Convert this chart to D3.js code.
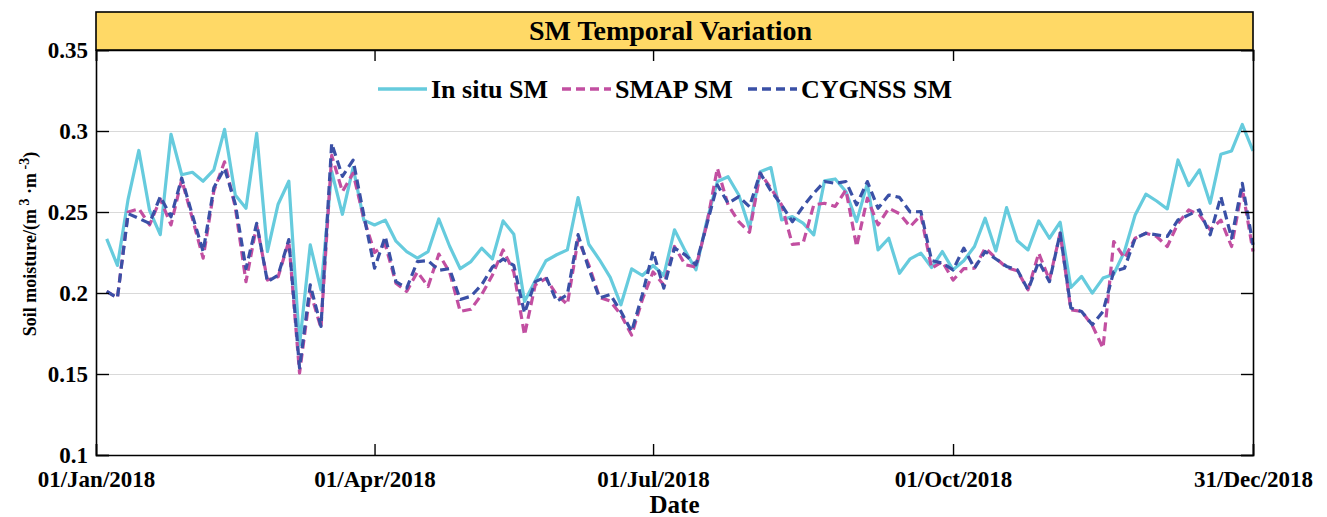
<!DOCTYPE html>
<html>
<head>
<meta charset="utf-8">
<script src="https://cdn.jsdelivr.net/npm/d3@7"></script>
<style>
  html, body { margin: 0; padding: 0; background: #fff; }
  svg { display: block; font-family: "Liberation Serif", "Times New Roman", serif; font-weight: bold; }
</style>
</head>
<body>
<svg id="chart" width="1327" height="517"></svg>
<script>
// ---- data (one sample per ~3.4 days, index 1..108) ----
const insitu = [0.2334,0.217,0.258,0.288,0.251,0.236,0.298,0.273,0.2745,0.269,0.276,0.301,0.2605,0.2523,0.2986,0.2256,0.2548,0.269,
  0.168,0.2297,0.202,0.275,0.2486,0.2774,0.245,0.242,0.245,0.232,0.2256,0.2215,0.2256,0.2457,0.229,0.215,0.2194,0.2277,
  0.221,0.2445,0.2363,0.1948,0.2075,0.2199,0.2236,0.2266,0.2589,0.2301,0.2205,0.2096,0.1927,0.2149,0.2108,0.217,0.2108,0.239,
  0.226,0.2143,0.2441,0.2688,0.2718,0.2605,0.24,0.2749,0.2774,0.2451,0.2472,0.2431,0.2359,0.2692,0.2704,0.2626,0.2441,0.2677,
  0.2266,0.2338,0.2122,0.2211,0.2246,0.2157,0.2256,0.2143,0.2199,0.2287,0.2462,0.226,0.2527,0.2322,0.2266,0.2445,0.2338,0.2437,
  0.2034,0.2102,0.1999,0.2092,0.2116,0.2256,0.2482,0.261,0.2568,0.2519,0.2821,0.2663,0.276,0.2554,0.2856,0.2877,0.304,0.2877];
const smap = [0.201,0.197,0.25,0.252,0.242,0.258,0.242,0.27,0.246,0.2215,0.263,0.281,0.253,0.207,0.242,0.208,0.21,0.232,
  0.1506,0.201,0.1783,0.285,0.2626,0.274,0.246,0.225,0.23,0.206,0.201,0.213,0.204,0.224,0.213,0.1886,0.19,0.199,
  0.211,0.2266,0.213,0.174,0.205,0.209,0.199,0.193,0.233,0.2174,0.1973,0.195,0.1866,0.174,0.196,0.213,0.205,0.2287,
  0.2174,0.216,0.242,0.277,0.2544,0.244,0.2375,0.274,0.2647,0.2544,0.23,0.2307,0.2544,0.2554,0.2534,0.2636,0.2287,0.2585,
  0.242,0.2523,0.249,0.241,0.248,0.2153,0.2194,0.208,0.215,0.2153,0.2277,0.2215,0.2157,0.2137,0.202,0.2246,0.208,0.237,
  0.1896,0.1886,0.18,0.166,0.2318,0.2215,0.2338,0.2369,0.2349,0.2287,0.243,0.2513,0.2482,0.239,0.245,0.2287,0.2646,0.2256];
const cygnss = [0.201,0.197,0.249,0.246,0.243,0.2595,0.247,0.271,0.248,0.2256,0.265,0.277,0.255,0.215,0.243,0.207,0.211,0.233,
  0.1537,0.205,0.1794,0.2924,0.272,0.282,0.248,0.2153,0.2349,0.207,0.203,0.2194,0.22,0.214,0.215,0.196,0.198,0.205,
  0.216,0.221,0.217,0.1876,0.207,0.21,0.1948,0.199,0.236,0.215,0.197,0.199,0.1886,0.1763,0.199,0.2256,0.203,0.2277,
  0.2236,0.2174,0.242,0.2667,0.2554,0.2595,0.2533,0.274,0.263,0.2544,0.244,0.2533,0.2616,0.2688,0.2677,0.2688,0.2544,0.2688,
  0.2523,0.2605,0.259,0.25,0.2503,0.22,0.2184,0.2143,0.2277,0.2153,0.2256,0.221,0.2164,0.2143,0.202,0.2194,0.207,0.237,
  0.1907,0.1886,0.1804,0.1886,0.2133,0.2153,0.2338,0.2369,0.2359,0.2349,0.2451,0.2482,0.2513,0.2359,0.2595,0.2338,0.2677,0.2297];
const seriesNames = ["In situ SM", "SMAP SM", "CYGNSS SM"];
const xTickIdx = [0, 26, 52, 80, 108];
const xTickLabels = ["01/Jan/2018", "01/Apr/2018", "01/Jul/2018", "01/Oct/2018", "31/Dec/2018"];
const yTicks = [0.1, 0.15, 0.2, 0.25, 0.3, 0.35];
const yTickLabels = ["0.1", "0.15", "0.2", "0.25", "0.3", "0.35"];

// ---- layout ----
const L = 96, R = 1253, T = 50, B = 455, titleTop = 12;
const W = R - L, H = B - T;
const colors = ["#66CBDD", "#C24FA1", "#3A50A6"];

const svg = d3.select("#chart");
const g = svg.append("g").attr("transform", `translate(${L},${T})`);

const x = d3.scaleLinear().domain([0, 108]).range([0, W]);
const y = d3.scaleLinear().domain([0.1, 0.35]).range([H, 0]);

// gridlines
g.append("g").attr("class", "grid")
  .call(d3.axisLeft(y).tickValues(yTicks).tickSize(-W).tickFormat(""))
  .call(s => s.select(".domain").remove())
  .call(s => s.selectAll("line").attr("stroke", "#d9d9d9").attr("stroke-width", 1.2));

// lines
const line = d3.line().x((d, i) => x(i + 1)).y(d => y(d));
const data = [insitu, smap, cygnss];
data.forEach((arr, k) => {
  g.append("path").datum(arr)
    .attr("fill", "none")
    .attr("stroke", colors[k])
    .attr("stroke-width", 3.2)
    .attr("stroke-linejoin", "round")
    .attr("stroke-dasharray", k === 0 ? null : "9,5")
    .attr("d", line);
});

// axes
const fontSize = 23;
const yAxis = g.append("g")
  .call(d3.axisLeft(y).tickValues(yTicks).tickSize(-13).tickPadding(8)
    .tickFormat((d, i) => yTickLabels[i]));
const yAxisR = g.append("g").attr("transform", `translate(${W},0)`)
  .call(d3.axisRight(y).tickValues(yTicks).tickSize(-12).tickFormat(""));
const xAxis = g.append("g").attr("transform", `translate(0,${H})`)
  .call(d3.axisBottom(x).tickValues(xTickIdx).tickSize(-11).tickPadding(16)
    .tickFormat((d, i) => xTickLabels[i]));
const xAxisT = g.append("g")
  .call(d3.axisTop(x).tickValues(xTickIdx).tickSize(-11).tickFormat(""));

[yAxis, yAxisR, xAxis, xAxisT].forEach(a => {
  a.select(".domain").attr("stroke", "#000").attr("stroke-width", 1.6);
  a.selectAll(".tick line").attr("stroke", "#000").attr("stroke-width", 1.4);
  a.selectAll("text").attr("font-family", "Liberation Serif").attr("font-weight", "bold")
    .attr("font-size", fontSize).attr("fill", "#000");
});
xAxis.selectAll("text").attr("dy", "0.71em");
yAxis.selectAll("text").attr("dy", "0.34em");

// title box
svg.append("rect").attr("x", L).attr("y", titleTop).attr("width", W).attr("height", T - titleTop)
  .attr("fill", "#FFD966").attr("stroke", "#000").attr("stroke-width", 1.6);
svg.append("text").attr("x", (L + R) / 2 - 4).attr("y", 40).attr("text-anchor", "middle")
  .attr("font-size", 28).text("SM Temporal Variation");

// axis titles
svg.append("text").attr("x", (L + R) / 2).attr("y", 513).attr("text-anchor", "middle")
  .attr("font-size", 25).text("Date");
const yl = svg.append("text").attr("transform", "translate(36,244) rotate(-90)")
  .attr("text-anchor", "middle").attr("font-size", 18);
yl.append("tspan").text("Soil moisture/(m");
yl.append("tspan").attr("dy", -7).attr("font-size", 14).text(" 3");
yl.append("tspan").attr("dy", 7).text(" ·m");
yl.append("tspan").attr("dy", -7).attr("font-size", 14).text(" -3");
yl.append("tspan").attr("dy", 7).text(")");

// legend
const legX = [378, 562, 748];
const legY = 89;
seriesNames.forEach((name, k) => {
  svg.append("line").attr("x1", legX[k]).attr("x2", legX[k] + 49).attr("y1", legY).attr("y2", legY)
    .attr("stroke", colors[k]).attr("stroke-width", 3.4)
    .attr("stroke-dasharray", k === 0 ? null : "9,5");
  svg.append("text").attr("x", legX[k] + 53).attr("y", legY + 9).attr("font-size", 26).text(name);
});
</script>
</body>
</html>
